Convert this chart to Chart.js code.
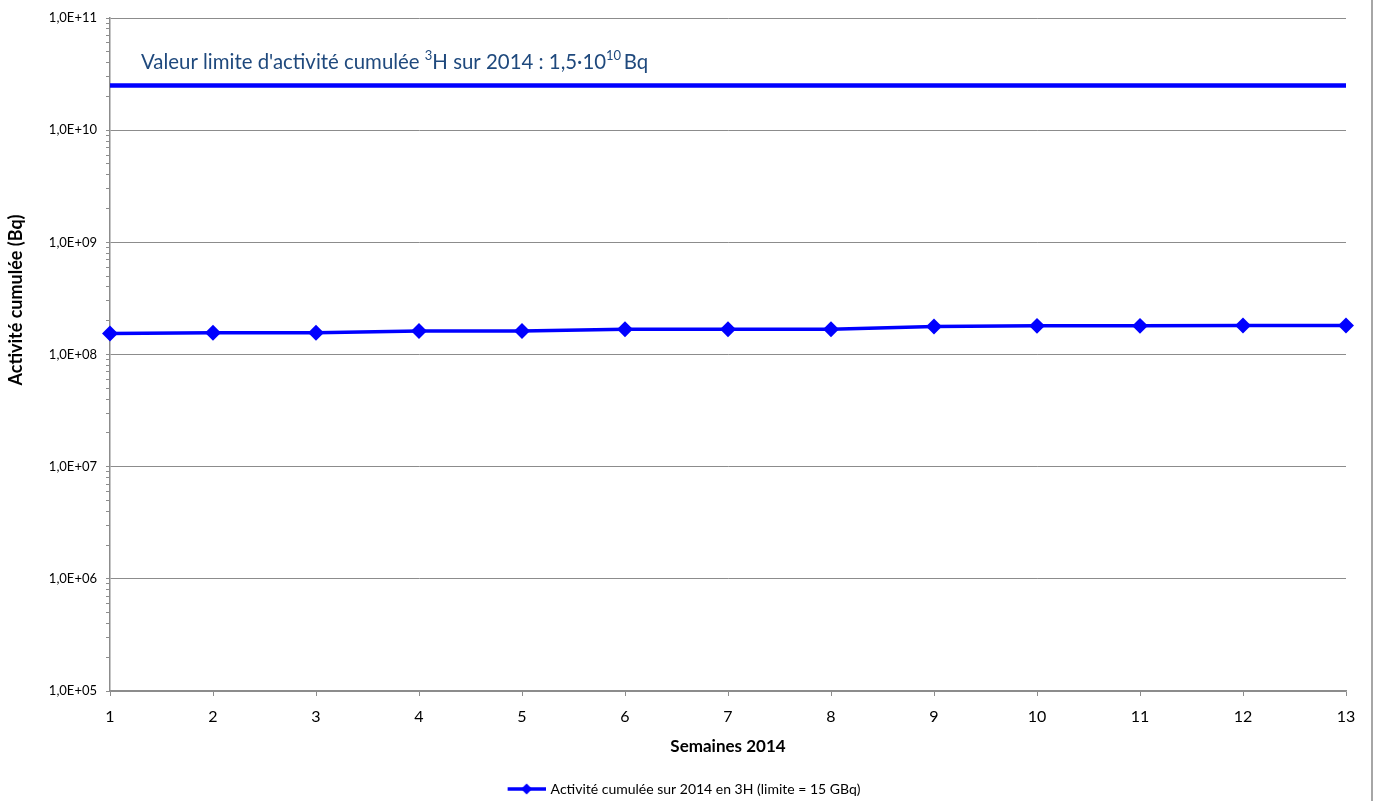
<!DOCTYPE html>
<html>
<head>
<meta charset="utf-8">
<script src="https://cdn.jsdelivr.net/npm/chart.js@4.4.1/dist/chart.umd.min.js"></script>
<style>
  html, body { margin: 0; padding: 0; background: #fff; }
  #wrap { position: relative; width: 1374px; height: 801px; }
  #edge { position: absolute; left: 1371px; top: 0; width: 2px; height: 801px; background: #a6a6a6; }
</style>
</head>
<body>
<div id="wrap">
  <canvas id="chart" width="1374" height="801"></canvas>
  <div id="edge"></div>
</div>
<script>
// data
const weeks = [1, 2, 3, 4, 5, 6, 7, 8, 9, 10, 11, 12, 13];
const activity = [1.54e8, 1.56e8, 1.56e8, 1.62e8, 1.62e8, 1.68e8, 1.68e8, 1.68e8, 1.78e8, 1.80e8, 1.80e8, 1.81e8, 1.81e8];
const limitLevel = 2.5e10;
const decades = [1e5, 1e6, 1e7, 1e8, 1e9, 1e10, 1e11];
const minorSteps = [2, 3, 4, 5, 6, 7, 8, 9];
const seriesLabel = "Activité cumulée sur 2014 en 3H (limite = 15 GBq)";
const yTitle = "Activité cumulée (Bq)";
const xTitle = "Semaines 2014";
const noteParts = [
  ["Valeur limite d'activité cumulée ", false],
  ["3", true],
  ["H sur 2014 : 1,5·10", false],
  ["10", true],
  ["\u2009Bq", false]
];

const FONT = "Lato, 'Noto Sans', sans-serif";
Chart.defaults.font.family = FONT;
Chart.defaults.color = "#000";

const AXIS = "#8c8c8c";
const BLUE = "#0000ff";

// legend icon: short line with a diamond, Excel style
// (blank strip on the left nudges the centred legend item to the right)
function legendIcon() {
  const c = document.createElement("canvas");
  c.width = 62;
  c.height = 14;
  const g = c.getContext("2d");
  g.strokeStyle = BLUE;
  g.lineWidth = 3.5;
  g.beginPath();
  g.moveTo(24, 7);
  g.lineTo(62, 7);
  g.stroke();
  g.fillStyle = BLUE;
  g.beginPath();
  g.moveTo(43, 1.5);
  g.lineTo(48.5, 7);
  g.lineTo(43, 12.5);
  g.lineTo(37.5, 7);
  g.closePath();
  g.fill();
  return c;
}
const icon = legendIcon();

// annotation above the limit line + y axis title (sits above centre in the original)
const extras = {
  id: "extras",
  afterDatasetsDraw(chart) {
    const { ctx, chartArea } = chart;
    const y = chart.scales.y.getPixelForValue(limitLevel) - 23;
    let x = chartArea.left + 31;
    ctx.save();
    ctx.fillStyle = "#1F497D";
    ctx.textBaseline = "middle";
    ctx.textAlign = "left";
    noteParts.forEach(([txt, sup]) => {
      ctx.font = sup ? "13px " + FONT : "20.4px " + FONT;
      ctx.fillText(txt, x, sup ? y - 7 : y);
      x += ctx.measureText(txt).width;
    });
    ctx.restore();

    ctx.save();
    ctx.translate(16, 300);
    ctx.rotate(-Math.PI / 2);
    ctx.font = "bold 18px " + FONT;
    ctx.fillStyle = "#000";
    ctx.textAlign = "center";
    ctx.textBaseline = "middle";
    ctx.fillText(yTitle, 0, 0);
    ctx.restore();
  }
};

new Chart(document.getElementById("chart"), {
  type: "line",
  data: {
    datasets: [
      {
        label: seriesLabel,
        data: weeks.map((w, i) => ({ x: w, y: activity[i] })),
        borderColor: BLUE,
        backgroundColor: BLUE,
        borderWidth: 3.5,
        pointStyle: "rectRot",
        pointRadius: 5.5,
        pointHoverRadius: 5.5,
        tension: 0,
        clip: false
      },
      {
        label: "limit",
        data: weeks.map((w) => ({ x: w, y: limitLevel })),
        borderColor: BLUE,
        borderWidth: 4.5,
        pointRadius: 0,
        tension: 0,
        clip: false
      }
    ]
  },
  options: {
    responsive: false,
    animation: false,
    layout: { padding: { top: 18, right: 28, bottom: -5, left: 0 } },
    plugins: {
      tooltip: { enabled: false },
      legend: {
        position: "bottom",
        labels: {
          usePointStyle: true,
          pointStyleWidth: 58,
          padding: 8,
          font: { size: 14 },
          generateLabels: (chart) =>
            Chart.defaults.plugins.legend.labels.generateLabels(chart)
              .filter((l) => l.datasetIndex === 0)
              .map((l) => ({ ...l, pointStyle: icon }))
        }
      }
    },
    scales: {
      x: {
        type: "linear",
        min: 1,
        max: 13,
        ticks: { stepSize: 1, font: { size: 16 }, padding: 11 },
        grid: { drawOnChartArea: false, drawTicks: true, tickLength: 5, color: AXIS },
        border: { color: AXIS, width: 1.5 },
        title: {
          display: true,
          text: xTitle,
          font: { size: 17, weight: "bold" },
          padding: { top: 0, bottom: 17 }
        },
        afterFit: (s) => { s.height = 83; }
      },
      y: {
        type: "logarithmic",
        min: 1e5,
        max: 1e11,
        afterBuildTicks: (s) => {
          const t = [];
          decades.forEach((d, i) => {
            t.push({ value: d, major: true });
            if (i < decades.length - 1) minorSteps.forEach((m) => t.push({ value: d * m, major: false }));
          });
          s.ticks = t;
        },
        ticks: {
          autoSkip: false,
          font: { size: 13 },
          padding: 9,
          callback: function (v, i, ticks) {
            if (!ticks[i].major) return "";
            const e = Math.round(Math.log10(v));
            return "1,0E+" + String(e).padStart(2, "0");
          }
        },
        grid: {
          tickLength: 4,
          color: (c) => (c.tick && c.tick.major ? AXIS : "rgba(0,0,0,0)"),
          tickColor: AXIS
        },
        border: { color: AXIS, width: 1.5 },
        afterFit: (s) => { s.width = 110; }
      }
    }
  },
  plugins: [extras]
});
</script>
</body>
</html>
